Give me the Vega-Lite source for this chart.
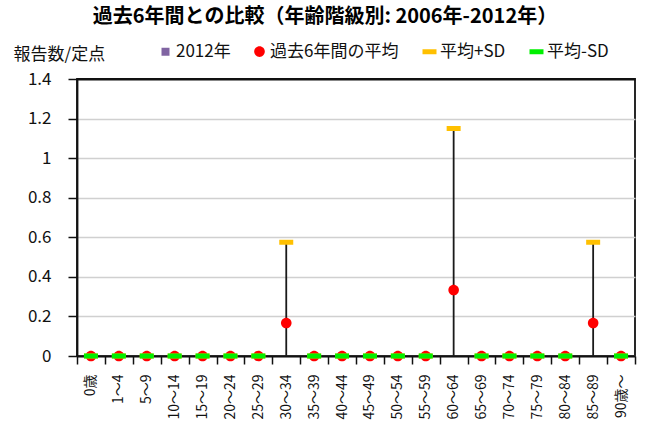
{
  "$schema": "https://vega.github.io/schema/vega-lite/v6.json",
  "width": 558,
  "height": 277,
  "autosize": {"type": "none"},
  "padding": {"left": 77, "top": 79, "right": 16, "bottom": 89},
  "background": "white",
  "config": {
    "font": "Noto Sans CJK JP",
    "view": {"stroke": "#111", "strokeWidth": 1.8},
    "axis": {"labelColor": "#111", "titleColor": "#111"},
    "axisY": {
      "title": "報告数/定点",
      "titleAngle": 0,
      "titleAlign": "left",
      "titleBaseline": "middle",
      "titleX": -64,
      "titleY": -25,
      "titleFontSize": 17,
      "titleFontWeight": "normal",
      "values": [0, 0.2, 0.4, 0.6, 0.8, 1, 1.2, 1.4],
      "format": ".1~f",
      "labelOverlap": false,
      "labelFontSize": 17,
      "labelPadding": 17,
      "tickSize": 9,
      "tickColor": "#111",
      "tickWidth": 1.5,
      "domainColor": "#111",
      "domainWidth": 1.8,
      "grid": true,
      "gridColor": {"condition": {"test": "datum.value >= 1.39", "value": "#111"}, "value": "#d0d0d0"},
      "gridWidth": {"condition": {"test": "datum.value >= 1.39", "value": 1.8}, "value": 1.5}
    }
  },
  "title": {
    "text": "過去6年間との比較（年齢階級別: 2006年-2012年）",
    "font": "Noto Sans CJK JP",
    "fontSize": 20,
    "fontWeight": "bold",
    "color": "#000",
    "anchor": "middle",
    "frame": "group",
    "dx": -31,
    "offset": 16
  },
  "data": {
    "values": [
      {"age": "0歳", "2012年": 0, "過去6年間の平均": 0, "平均+SD": 0, "平均-SD": 0},
      {"age": "1～4", "2012年": 0, "過去6年間の平均": 0, "平均+SD": 0, "平均-SD": 0},
      {"age": "5～9", "2012年": 0, "過去6年間の平均": 0, "平均+SD": 0, "平均-SD": 0},
      {"age": "10～14", "2012年": 0, "過去6年間の平均": 0, "平均+SD": 0, "平均-SD": 0},
      {"age": "15～19", "2012年": 0, "過去6年間の平均": 0, "平均+SD": 0, "平均-SD": 0},
      {"age": "20～24", "2012年": 0, "過去6年間の平均": 0, "平均+SD": 0, "平均-SD": 0},
      {"age": "25～29", "2012年": 0, "過去6年間の平均": 0, "平均+SD": 0, "平均-SD": 0},
      {"age": "30～34", "2012年": 0, "過去6年間の平均": 0.1667, "平均+SD": 0.5749, "平均-SD": -0.2416},
      {"age": "35～39", "2012年": 0, "過去6年間の平均": 0, "平均+SD": 0, "平均-SD": 0},
      {"age": "40～44", "2012年": 0, "過去6年間の平均": 0, "平均+SD": 0, "平均-SD": 0},
      {"age": "45～49", "2012年": 0, "過去6年間の平均": 0, "平均+SD": 0, "平均-SD": 0},
      {"age": "50～54", "2012年": 0, "過去6年間の平均": 0, "平均+SD": 0, "平均-SD": 0},
      {"age": "55～59", "2012年": 0, "過去6年間の平均": 0, "平均+SD": 0, "平均-SD": 0},
      {"age": "60～64", "2012年": 0, "過去6年間の平均": 0.3333, "平均+SD": 1.1498, "平均-SD": -0.4832},
      {"age": "65～69", "2012年": 0, "過去6年間の平均": 0, "平均+SD": 0, "平均-SD": 0},
      {"age": "70～74", "2012年": 0, "過去6年間の平均": 0, "平均+SD": 0, "平均-SD": 0},
      {"age": "75～79", "2012年": 0, "過去6年間の平均": 0, "平均+SD": 0, "平均-SD": 0},
      {"age": "80～84", "2012年": 0, "過去6年間の平均": 0, "平均+SD": 0, "平均-SD": 0},
      {"age": "85～89", "2012年": 0, "過去6年間の平均": 0.1667, "平均+SD": 0.5749, "平均-SD": -0.2416},
      {"age": "90歳～", "2012年": 0, "過去6年間の平均": 0, "平均+SD": 0, "平均-SD": 0}
    ]
  },
  "encoding": {
    "x": {
      "field": "age",
      "type": "nominal",
      "sort": null,
      "scale": {"paddingInner": 0, "paddingOuter": 0},
      "axis": {
        "title": null,
        "labelAngle": -90,
        "labelFontSize": 14,
        "labelPadding": 10,
        "labelOverlap": false,
        "tickBand": "extent",
        "tickSize": 8,
        "tickColor": "#111",
        "tickWidth": 1.5,
        "domainColor": "#111",
        "domainWidth": 1.8
      }
    }
  },
  "layer": [
    {
      "mark": {"type": "bar", "color": "#8064A2", "clip": true},
      "encoding": {
        "y": {
          "field": "2012年",
          "type": "quantitative",
          "title": "報告数/定点",
          "scale": {"domain": [0, 1.4], "nice": false}
        }
      }
    },
    {
      "mark": {"type": "rule", "color": "#1a1a1a", "strokeWidth": 1.8, "clip": true},
      "encoding": {
        "y": {"field": "平均-SD", "type": "quantitative", "title": "報告数/定点", "scale": {"domain": [0, 1.4], "nice": false}},
        "y2": {"field": "平均+SD"}
      }
    },
    {
      "transform": [
        {"fold": ["過去6年間の平均", "平均+SD", "平均-SD"], "as": ["key", "value"]},
        {"filter": "datum.value >= 0"}
      ],
      "mark": {"type": "point", "filled": true, "opacity": 1, "size": 100},
      "encoding": {
        "y": {"field": "value", "type": "quantitative", "title": "報告数/定点", "scale": {"domain": [0, 1.4], "nice": false}},
        "color": {
          "field": "key",
          "type": "nominal",
          "scale": {
            "domain": ["2012年", "過去6年間の平均", "平均+SD", "平均-SD"],
            "range": ["#8064A2", "#FF0000", "#FFC000", "#00F000"]
          },
          "legend": {
            "title": null,
            "orient": "none",
            "direction": "horizontal",
            "legendX": 80,
            "legendY": -36,
            "labelFontSize": 17,
            "labelColor": "#111",
            "labelOffset": 2,
            "columnPadding": 20,
            "symbolOpacity": 1,
            "symbolSize": 100
          }
        },
        "shape": {
          "field": "key",
          "type": "nominal",
          "scale": {
            "domain": ["2012年", "過去6年間の平均", "平均+SD", "平均-SD"],
            "range": ["M-0.8,-0.8H0.8V0.8H-0.8Z", "M-1.06,0A1.06,1.06,0,1,0,1.06,0A1.06,1.06,0,1,0,-1.06,0Z", "M-1.4,-0.5H1.4V0.5H-1.4Z", "M-1.4,-0.5H1.4V0.5H-1.4Z"]
          }
        }
      }
    }
  ]
}
